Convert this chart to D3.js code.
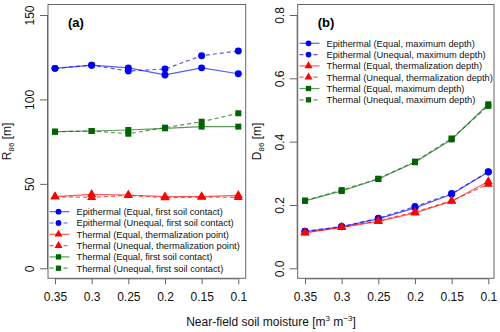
<!DOCTYPE html>
<html>
<head>
<meta charset="utf-8">
<script src="https://cdn.jsdelivr.net/npm/d3@7"></script>
<style>
  body { margin: 0; background: #fff; }
  text { font-family: "Liberation Sans", Arial, sans-serif; }
</style>
</head>
<body>
<div class="chart"></div>
<script>
// soil moisture steps (x axis, reversed)
const moisture = [0.35, 0.3, 0.25, 0.2, 0.15, 0.1];
const moistureLabels = ["0.35", "0.3", "0.25", "0.2", "0.15", "0.1"];

// panel (a) R86 [m]
const epiEqualR = [118.4, 120.3, 118.7, 114.5, 118.7, 115.2];
const epiUnequalR = [118.4, 120.3, 116.8, 118.0, 125.9, 128.7];
const thermEqualTp = [42.4, 43.8, 43.4, 42.4, 42.5, 43.2];
const thermUnequalTp = [42.4, 42.0, 43.2, 41.8, 42.2, 42.0];
const thermEqualR = [80.9, 81.3, 81.9, 82.9, 83.9, 83.9];
const thermUnequalR = [80.9, 81.3, 79.7, 83.3, 86.8, 91.8];
const ticksA = [0, 50, 100, 150];

// panel (b) D86 [m]
const epiEqualD = [0.116, 0.131, 0.156, 0.191, 0.234, 0.304];
const epiUnequalD = [0.117, 0.132, 0.158, 0.195, 0.236, 0.305];
const thermEqualTd = [0.112, 0.129, 0.148, 0.175, 0.212, 0.274];
const thermUnequalTd = [0.113, 0.130, 0.150, 0.178, 0.213, 0.266];
const thermEqualD = [0.213, 0.244, 0.282, 0.335, 0.407, 0.518];
const thermUnequalD = [0.214, 0.247, 0.283, 0.337, 0.410, 0.513];
const ticksB = [0.0, 0.2, 0.4, 0.6, 0.8];

const legendA = [
  "Epithermal (Equal, first soil contact)",
  "Epithermal (Unequal, first soil contact)",
  "Thermal (Equal, thermalization point)",
  "Thermal (Unequal, thermalization point)",
  "Thermal (Equal, first soil contact)",
  "Thermal (Unequal, first soil contact)"
];
const legendB = [
  "Epithermal (Equal, maximum depth)",
  "Epithermal (Unequal, maximum depth)",
  "Thermal (Equal, thermalization depth)",
  "Thermal (Unequal, thermalization depth)",
  "Thermal (Equal, maximum depth)",
  "Thermal (Unequal, maximum depth)"
];

const colors = ["#0000ff", "#0000ff", "#ff0000", "#ff0000", "#006400", "#006400"];
const shapes = [d3.symbolCircle, d3.symbolCircle, d3.symbolTriangle, d3.symbolTriangle, d3.symbolSquare, d3.symbolSquare];
const dashed = [false, true, false, true, false, true];

const width = 500, height = 332;
const svg = d3.select('.chart').append('svg')
  .attr('width', width)
  .attr('height', height);

function panel(opts) {
  const x = d3.scalePoint().domain(moisture).range([opts.x0, opts.x1]);
  const y = d3.scaleLinear().domain(opts.yDomain).range([opts.yBottom, opts.yTop]);
  const g = svg.append('g');

  // box
  g.append('rect')
    .attr('x', opts.box[0]).attr('y', opts.box[1])
    .attr('width', opts.box[2] - opts.box[0]).attr('height', opts.box[3] - opts.box[1])
    .attr('fill', 'none').attr('stroke', '#666').attr('stroke-width', 1);

  // axes
  const ya = g.append('g')
    .attr('transform', `translate(${opts.box[0]},0)`)
    .call(d3.axisLeft(y).tickValues(opts.ticks).tickSize(8).tickFormat(opts.fmt));
  ya.select('.domain').attr('stroke', '#666').attr('d', `M-0.5,${y(opts.ticks[0])}V${y(opts.ticks[opts.ticks.length - 1])}`);
  ya.selectAll('.tick line').attr('stroke', '#666');
  ya.selectAll('.tick text')
    .attr('font-size', 12).attr('fill', '#111')
    .attr('x', 0).attr('dy', 0)
    .attr('text-anchor', 'middle')
    .attr('transform', d => `translate(-14,0) rotate(-90)`);

  const xa = g.append('g')
    .attr('transform', `translate(0,${opts.box[3]})`)
    .call(d3.axisBottom(x).tickSize(6).tickFormat((d, i) => moistureLabels[i]));
  xa.select('.domain').attr('stroke', '#666').attr('d', `M${opts.x0},0.5H${opts.x1}`);
  xa.selectAll('.tick line').attr('stroke', '#666');
  xa.selectAll('.tick text').attr('font-size', 12).attr('fill', '#111').attr('y', 14);

  // series
  opts.series.forEach((s, k) => {
    const line = d3.line().x((d, i) => x(moisture[i])).y(d => y(d));
    g.append('path')
      .attr('d', line(s))
      .attr('fill', 'none')
      .attr('stroke', colors[k])
      .attr('stroke-opacity', 0.65)
      .attr('stroke-width', 1.2)
      .attr('stroke-dasharray', dashed[k] ? '4,3' : null);
    g.selectAll(null)
      .data(s)
      .enter()
      .append('path')
      .attr('d', d3.symbol().type(shapes[k]).size(shapes[k] === d3.symbolCircle ? 38 : 36))
      .attr('transform', (d, i) => `translate(${x(moisture[i])},${y(d)})`)
      .attr('fill', colors[k]);
  });

  // legend
  opts.legend.forEach((t, k) => {
    const ly = opts.legendY + k * 11.3;
    g.append('line')
      .attr('x1', opts.legendX).attr('x2', opts.legendX + 20)
      .attr('y1', ly).attr('y2', ly)
      .attr('stroke', colors[k]).attr('stroke-opacity', 0.65).attr('stroke-width', 1.2)
      .attr('stroke-dasharray', dashed[k] ? '4,3' : null);
    g.append('path')
      .attr('d', d3.symbol().type(shapes[k]).size(shapes[k] === d3.symbolCircle ? 26 : 28))
      .attr('transform', `translate(${opts.legendX + 9},${ly})`)
      .attr('fill', colors[k]);
    g.append('text')
      .attr('x', opts.legendX + 27).attr('y', ly + 3.3)
      .attr('font-size', 9.3).attr('fill', '#111')
      .text(t);
  });

  // panel tag
  g.append('text')
    .attr('x', opts.box[0] + 20).attr('y', 27)
    .attr('font-size', 13).attr('font-weight', 'bold')
    .text(opts.tag);

  // y title
  const yt = g.append('text')
    .attr('transform', `translate(${opts.box[0] - 37},${(opts.box[1] + opts.box[3]) / 2}) rotate(-90)`)
    .attr('text-anchor', 'middle').attr('font-size', 12).attr('fill', '#111');
  yt.append('tspan').text(opts.yLetter);
  yt.append('tspan').attr('font-size', 8).attr('dy', 3).text('86');
  yt.append('tspan').attr('dy', -3).text(' [m]');
}

panel({
  x0: 55, x1: 238.3, box: [48, 4.5, 245.7, 278.3],
  yDomain: [0, 150], yBottom: 268.3, yTop: 15,
  ticks: ticksA, fmt: d3.format('d'),
  series: [epiEqualR, epiUnequalR, thermEqualTp, thermUnequalTp, thermEqualR, thermUnequalR],
  legend: legendA, legendX: 49.5, legendY: 211.7,
  tag: '(a)', yLetter: 'R'
});

panel({
  x0: 305, x1: 488.3, box: [297.7, 4.5, 494, 278.3],
  yDomain: [0, 0.8], yBottom: 268.3, yTop: 15,
  ticks: ticksB, fmt: d3.format('.1f'),
  series: [epiEqualD, epiUnequalD, thermEqualTd, thermUnequalTd, thermEqualD, thermUnequalD],
  legend: legendB, legendX: 299.5, legendY: 43.3,
  tag: '(b)', yLetter: 'D'
});

// x title
const xt = svg.append('text')
  .attr('x', 271).attr('y', 326)
  .attr('text-anchor', 'middle').attr('font-size', 12).attr('fill', '#111');
xt.append('tspan').text('Near-field soil moisture [m');
xt.append('tspan').attr('font-size', 8).attr('dy', -5).text('3');
xt.append('tspan').attr('dy', 5).text(' m');
xt.append('tspan').attr('font-size', 8).attr('dy', -5).text('\u22123');
xt.append('tspan').attr('dy', 5).text(']');
</script>
</body>
</html>
